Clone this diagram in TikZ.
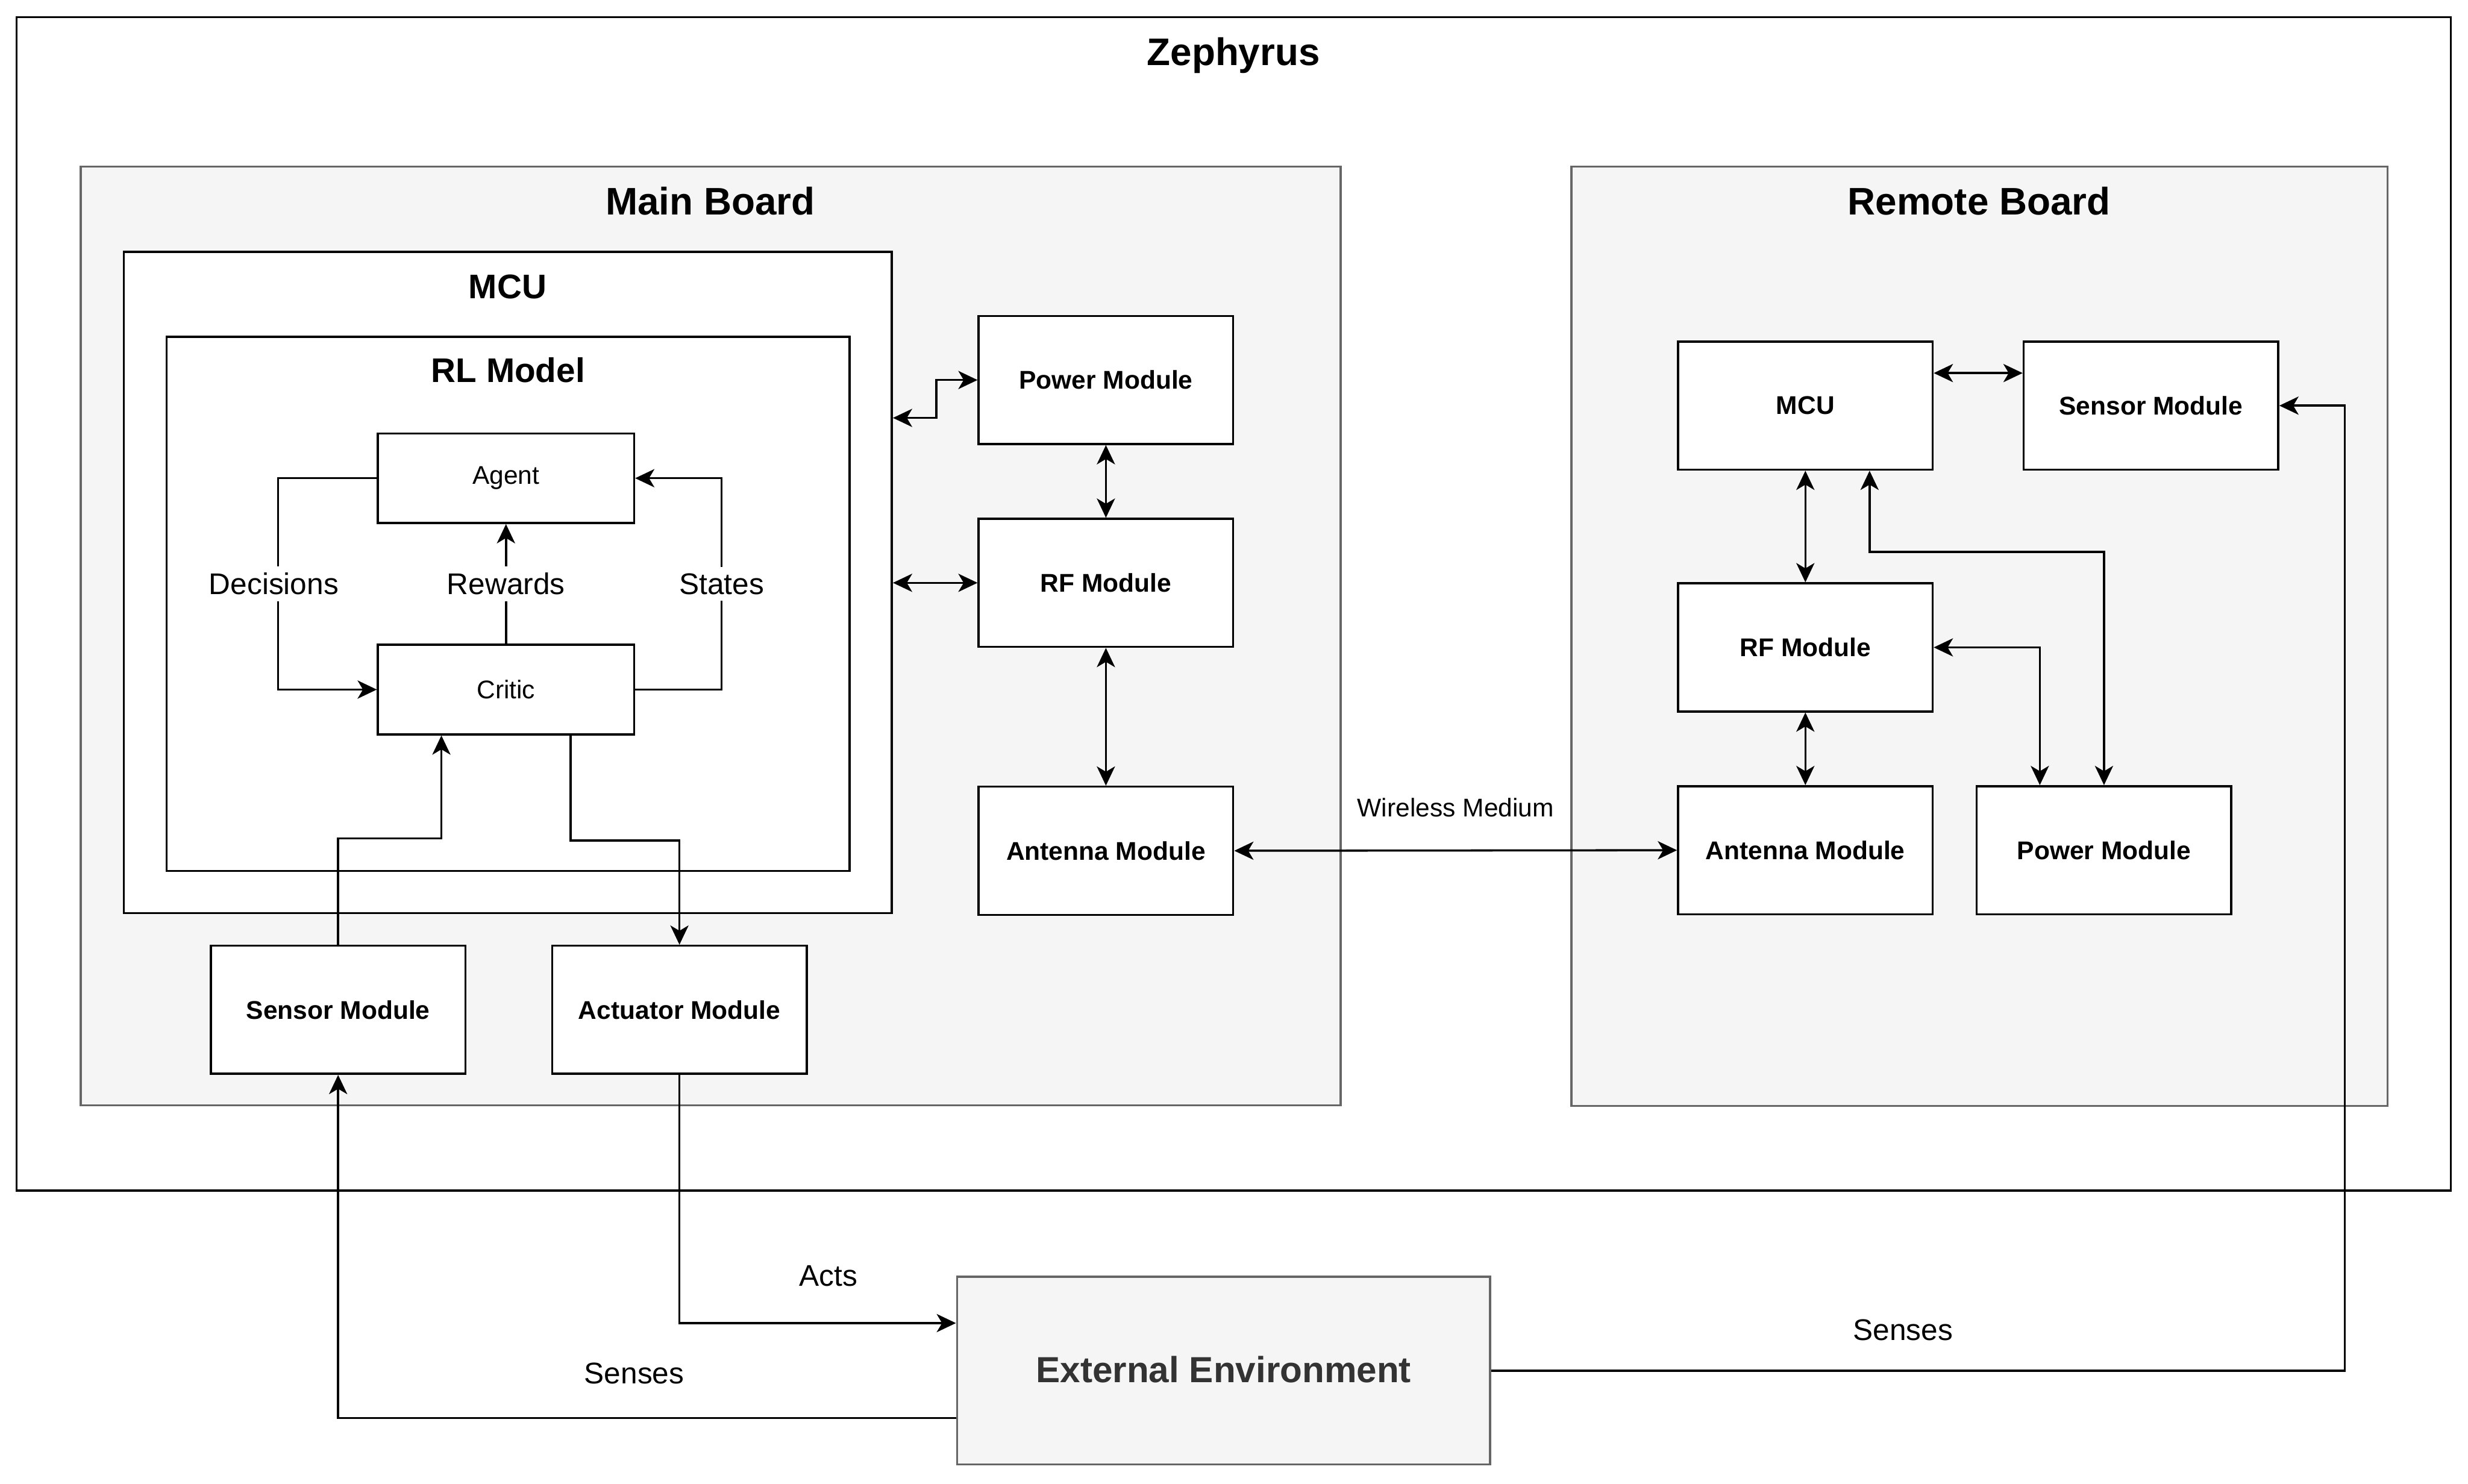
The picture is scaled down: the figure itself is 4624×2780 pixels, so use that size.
\documentclass[tikz,border=0pt]{standalone}
\usepackage{fontspec}
\setmainfont{Liberation Sans}
\usetikzlibrary{arrows.meta,positioning,calc}
\definecolor{boardfill}{HTML}{F5F5F5}
\definecolor{boardline}{HTML}{666666}
\definecolor{envtext}{HTML}{333333}
\newcommand{\fsize}[1]{\fontsize{#1}{#1}\selectfont}

\begin{document}
\begin{tikzpicture}[x=0.25pt,y=-0.25pt,line width=1pt,
    >={Stealth[length=9pt,width=8.5pt,inset=2.5pt]}]
  \tikzstyle{frame}=[rectangle,draw=black,fill=white,inner sep=0pt]
  \tikzstyle{board}=[rectangle,draw=boardline,fill=boardfill,inner sep=0pt]
  \tikzstyle{module}=[rectangle,draw=black,fill=white,
                      minimum width=119.25pt,minimum height=60pt,
                      font=\fsize{12}\bfseries]
  \tikzstyle{rl box}=[module,minimum width=120pt,minimum height=42pt,
                      font=\fsize{12}]
  \tikzstyle{title}=[font=\fsize{18}\bfseries]
  \tikzstyle{sub title}=[font=\fsize{16}\bfseries]
  \tikzstyle{flow label}=[font=\fsize{14}]
  \tikzstyle{loop label}=[flow label,fill=white,inner sep=3pt]
  \useasboundingbox (0,0) rectangle (4624,2780);
  % containers
  \node [frame,minimum width=1140.25pt,minimum height=549.75pt] (zephyrus) at (2311.5,1131.5) {};
  \node [title] (zephyrus title) at (2311,104) {Zephyrus};
  \node [board,minimum width=590.25pt,minimum height=439.75pt] (main) at (1331.5,1191.5) {};
  \node [title] (main title) at (1331,377) {Main Board};
  \node [board,minimum width=382.25pt,minimum height=440pt] (remote) at (3708.5,1192) {};
  \node [title] (remote title) at (3708,377) {Remote Board};
  \node [frame,minimum width=359.75pt,minimum height=309.75pt] (mcu) at (951.5,1091.5) {};
  \node [sub title] (mcu title) at (951,537) {MCU};
  \node [frame,minimum width=320pt,minimum height=250.25pt] (rl) at (952,1131.5) {};
  \node [sub title] (rl title) at (952,693) {RL Model};
  \node [board,minimum width=249.75pt,minimum height=88pt,
         font=\fsize{17}\bfseries,text=envtext] (env) at (2292.5,2568) {\raisebox{1pt}{External Environment}};
  % RL model
  \node [rl box] (agent)  at (948,896)  {Agent};
  \node [rl box] (critic) at (948,1292) {Critic};
  % main board
  \node [module] (power)    at (2072,712)   {Power Module};
  \node [module] (rf)       at (2072,1092)  {RF Module};
  \node [module] (antenna)  at (2072,1594)  {Antenna Module};
  \node [module] (sensor)   at (633.5,1892) {Sensor Module};
  \node [module] (actuator) at (1273,1892)  {Actuator Module};
  % remote board
  \node [module] (rmcu)     at (3382.5,760)  {MCU};
  \node [module] (rsensor)  at (4030,760)    {Sensor Module};
  \node [module] (rrf)      at (3382.5,1213) {RF Module};
  \node [module] (rantenna) at (3382.5,1593) {Antenna Module};
  \node [module] (rpower)   at (3942,1593)   {Power Module};

  % agent / critic loop
  \draw [->] (agent.west) -- ++(-185,0) |- node [loop label,pos=0.25,xshift=-2pt] {Decisions} (critic.west);
  \draw [->] (critic.north) -- node [loop label] {Rewards} (agent.south);
  \draw [->] (critic.east) -- ++(162,0) |- node [loop label,pos=0.25] {States} (agent.east);
  \draw [->] (sensor.north) -- ++(0,-199) -| ($(critic.south west)!0.25!(critic.south east)$);
  \draw [->] ($(critic.south west)!0.75!(critic.south east)$) -- ++(0,197) -| (actuator.north);

  % main board links
  \draw [<->] (mcu.east |- 0,783) -- ++(81,0) |- (power.west);
  \draw [<->] (mcu.east |- rf.west) -- (rf.west);
  \draw [<->] (power.south) -- (rf.north);
  \draw [<->] (rf.south) -- (antenna.north);
  \draw [<->] (antenna.east) -- node [flow label,font=\fsize{12},yshift=20pt] {Wireless Medium} (rantenna.west);

  % remote board links
  \draw [<->] ($(rmcu.north east)!0.25!(rmcu.south east)$) -- ($(rsensor.north west)!0.25!(rsensor.south west)$);
  \draw [<->] (rmcu.south) -- (rrf.north);
  \draw [<->] ($(rmcu.south west)!0.75!(rmcu.south east)$) -- ++(0,152) -| (rpower.north);
  \draw [<->] (rrf.east) -| ($(rpower.north west)!0.25!(rpower.north east)$);
  \draw [<->] (rrf.south) -- (rantenna.north);

  % environment
  \draw [->] (actuator.south) |- node [flow label,pos=0.75,xshift=5pt,yshift=22pt] {Acts} ($(env.north west)!0.25!(env.south west)$);
  \draw [->] ($(env.north west)!0.75!(env.south west)$) -| node [flow label,pos=0.25,xshift=-6pt,yshift=21pt] {Senses} (sensor.south);
  \draw [->] (env.east) -- node [flow label,xshift=-7pt,yshift=19pt] {Senses} ++(1599,0) |- (rsensor.east);
\end{tikzpicture}
\end{document}
